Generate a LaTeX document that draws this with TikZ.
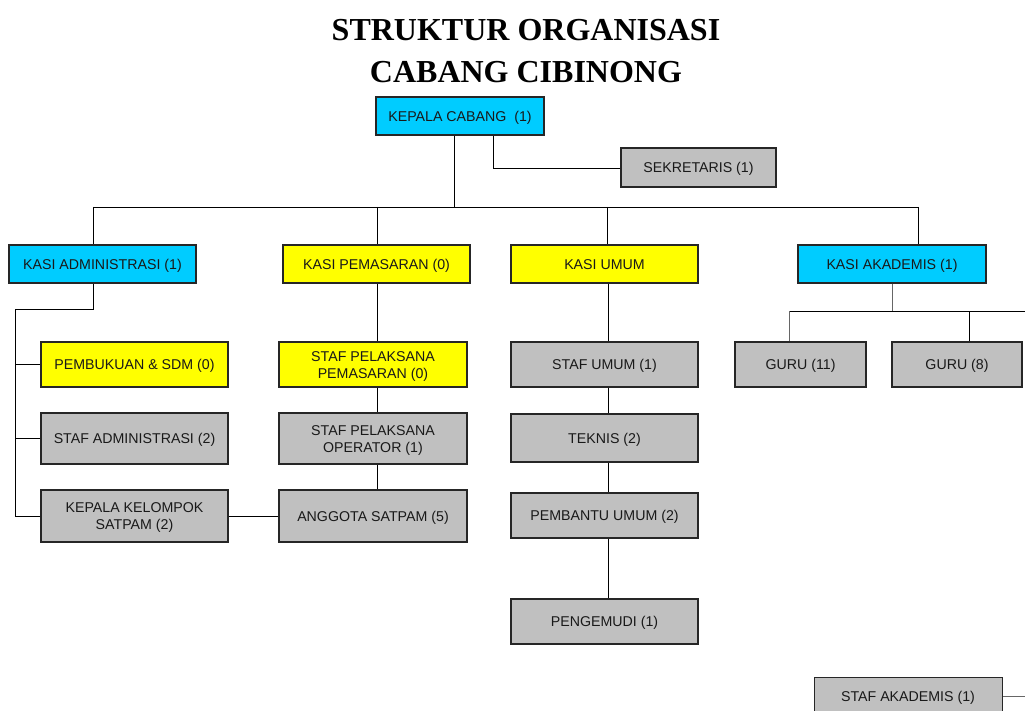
\documentclass[tikz,border=0pt]{standalone}
\usepackage{fontspec}
\setmainfont{Liberation Sans}
\newfontfamily\titlefont{Liberation Serif}
\definecolor{cyanbox}{HTML}{00CCFF}
\definecolor{yellowbox}{HTML}{FFFF00}
\definecolor{graybox}{HTML}{C0C0C0}
\definecolor{edge}{HTML}{262626}
\begin{document}
\begin{tikzpicture}[x=1pt,y=-1pt,
  box/.style={draw=edge, line width=1.1pt, inner sep=0pt, align=center,
    font=\fontsize{14.2}{17}\selectfont, text=black!90, text height=10.2pt, text depth=0pt},
  two/.style={text height=27.2pt, text depth=0pt},
  cy/.style={box, fill=cyanbox},
  ye/.style={box, fill=yellowbox},
  gr/.style={box, fill=graybox},
  conn/.style={draw=black, line width=0.9pt},
  title/.style={font=\titlefont\fontsize{32}{42}\bfseries\selectfont, inner sep=0pt}]
\useasboundingbox (0,0) rectangle (1025,711);
\clip (0,0) rectangle (1025,711);
% title
\node[title] (t1) at (526,30) {STRUKTUR ORGANISASI};
\node[title] (t2) at (526,72) {CABANG CIBINONG};
% boxes
\node[cy, minimum width=168, minimum height=38] (kc) at (460,116) {KEPALA CABANG\ \ (1)};
\node[gr, minimum width=155, minimum height=39] (sek) at (698.5,167.5) {SEKRETARIS (1)};
\node[cy, minimum width=187, minimum height=38] (ka) at (102.5,264) {KASI ADMINISTRASI (1)};
\node[ye, minimum width=187, minimum height=38] (kp) at (376.5,264) {KASI PEMASARAN (0)};
\node[ye, minimum width=187, minimum height=38] (ku) at (604.5,264) {KASI UMUM};
\node[cy, minimum width=188, minimum height=38] (kak) at (892,264) {KASI AKADEMIS (1)};
\node[ye, minimum width=187, minimum height=45] (pb) at (134.5,364.5) {PEMBUKUAN \& SDM (0)};
\node[gr, minimum width=187, minimum height=51] (sa) at (134.5,438.5) {STAF ADMINISTRASI (2)};
\node[gr, two, minimum width=187, minimum height=52] (kk) at (134.5,516) {KEPALA KELOMPOK\\SATPAM (2)};
\node[ye, two, minimum width=188, minimum height=45] (spp) at (373,364.5) {STAF PELAKSANA\\PEMASARAN (0)};
\node[gr, two, minimum width=188, minimum height=51] (spo) at (373,438.5) {STAF PELAKSANA\\OPERATOR (1)};
\node[gr, minimum width=188, minimum height=52] (as) at (373,516) {ANGGOTA SATPAM (5)};
\node[gr, minimum width=187, minimum height=45] (su) at (604.5,364.5) {STAF UMUM (1)};
\node[gr, minimum width=187, minimum height=48] (tk) at (604.5,438) {TEKNIS (2)};
\node[gr, minimum width=187, minimum height=45] (pu) at (604.5,515.5) {PEMBANTU UMUM (2)};
\node[gr, minimum width=187, minimum height=45] (pg) at (604.5,621.5) {PENGEMUDI (1)};
\node[gr, minimum width=131, minimum height=45] (g11) at (800.5,364.5) {GURU (11)};
\node[gr, minimum width=130, minimum height=45] (g8) at (957,364.5) {GURU (8)};
\node[gr, minimum width=188, minimum height=41, anchor=north west, text height=0pt] (sak) at (814,677) {};
\node[font=\fontsize{14.2}{17}\selectfont, text=black!90, inner sep=0pt, text height=10.2pt, text depth=0pt] (sakt) at (908,696) {STAF AKADEMIS (1)};
% coordinates
\coordinate (bkc) at (454,207);
\coordinate (b1) at (93,207);
\coordinate (b2) at (377,207);
\coordinate (b3) at (607,207);
\coordinate (b4) at (918,207);
\coordinate (s1) at (493,168);
\coordinate (a1) at (93,309);
\coordinate (a2) at (15,309);
\coordinate (u) at (608,0);
\coordinate (k1) at (892,311);
\coordinate (k2) at (789,311);
\coordinate (k3) at (969,311);
\coordinate (k4) at (1025,311);
\coordinate (sr) at (1025,696);
% connectors
\draw[conn] (kc.south -| bkc) -- (bkc);
\draw[conn] (b1) -- (b4);
\draw[conn] (b1) -- (ka.north -| b1);
\draw[conn] (b2) -- (kp.north -| b2);
\draw[conn] (b3) -- (ku.north -| b3);
\draw[conn] (b4) -- (kak.north -| b4);
\draw[conn] (kc.south -| s1) -- (s1) -- (sek.west |- s1);
\draw[conn] (ka.south -| a1) -- (a1) -- (a2) -- (a2 |- kk.west) -- (kk.west);
\draw[conn] (a2 |- pb.west) -- (pb.west);
\draw[conn] (a2 |- sa.west) -- (sa.west);
\draw[conn] (kk.east) -- (as.west);
\draw[conn] (kp.south -| b2) -- (spp.north -| b2);
\draw[conn] (spp.south -| b2) -- (spo.north -| b2);
\draw[conn] (spo.south -| b2) -- (as.north -| b2);
\draw[conn] (ku.south -| u) -- (su.north -| u);
\draw[conn] (su.south -| u) -- (tk.north -| u);
\draw[conn] (tk.south -| u) -- (pu.north -| u);
\draw[conn] (pu.south -| u) -- (pg.north -| u);
\draw[conn, draw=black!60] (kak.south -| k1) -- (k1);
\draw[conn] (k2) -- (k4);
\draw[conn, draw=black!60] (k2) -- (g11.north -| k2);
\draw[conn] (k3) -- (g8.north -| k3);
\draw[conn, draw=black!60] (sak.east |- sr) -- (sr);
\end{tikzpicture}
\end{document}
